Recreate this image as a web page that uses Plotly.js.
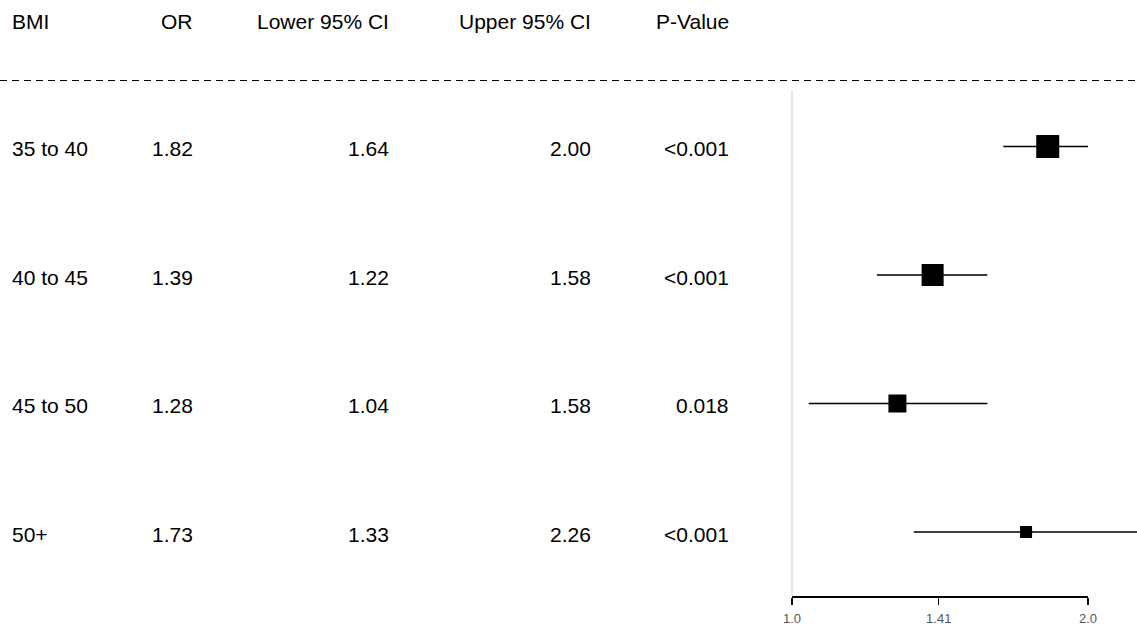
<!DOCTYPE html>
<html>
<head>
<meta charset="utf-8">
<script src="https://cdn.plot.ly/plotly-3.0.1.min.js"></script>
<style>html,body{margin:0;padding:0;background:#fff;}#chart{width:1137px;height:629px;}</style>
</head>
<body>
<div id="chart"></div>
<script>
// ---- data ----
var bmi = ["35 to 40", "40 to 45", "45 to 50", "50+"];
var orVals = [1.82, 1.39, 1.28, 1.73];
var lowerCI = [1.64, 1.22, 1.04, 1.33];
var upperCI = [2.00, 1.58, 1.58, 2.26];
var pValues = ["<0.001", "<0.001", "0.018", "<0.001"];
var headers = ["BMI", "OR", "Lower 95% CI", "Upper 95% CI", "P-Value"];
var tickVals = [1.0, 1.41, 2.0];
var tickLabels = ["1.0", "1.41", "2.0"];
var refValue = 1.0;

// ---- style ----
var W = 1137, H = 629;
var boxSizes = [23, 22, 18, 12];
var font = "Liberation Sans, Arial, Helvetica, sans-serif";
var fs = 21;

var rowY = bmi.map(function (_, i) { return bmi.length - i; }); // 4,3,2,1
var yBottom = 0.502, yTop = 5.14;

var ciX = [], ciY = [];
for (var i = 0; i < bmi.length; i++) {
  ciX.push(lowerCI[i], upperCI[i], null);
  ciY.push(rowY[i], rowY[i], null);
}

var traces = [
  { // reference (no effect) line
    type: "scatter", mode: "lines", x: [refValue, refValue], y: [yBottom, 4.44],
    line: { color: "#d0d0d0", width: 1 }, hoverinfo: "skip", showlegend: false
  },
  {
    type: "scatter", mode: "lines", x: ciX, y: ciY,
    line: { color: "#000", width: 1.5 }, hoverinfo: "skip", showlegend: false
  },
  {
    type: "scatter", mode: "markers", x: orVals, y: rowY,
    marker: { symbol: "square", size: boxSizes, color: "#000", opacity: 1, line: { width: 0 } },
    showlegend: false
  },
  { // activates the tick axis (xaxis2)
    type: "scatter", mode: "markers", x: [refValue], y: [rowY[0]], xaxis: "x2", yaxis: "y",
    marker: { opacity: 0 }, hoverinfo: "skip", showlegend: false
  }
];

// column geometry (pixels -> paper)
var colX = [10, 195, 391, 593, 731];
var colAnchor = ["left", "right", "right", "right", "right"];
var ann = [];
var headerY = 4.969;
headers.forEach(function (h, c) {
  ann.push({ xref: "paper", yref: "y", x: colX[c] / W, y: headerY, text: h,
    xanchor: colAnchor[c], yanchor: "middle", showarrow: false,
    font: { family: font, size: fs, color: "#000" } });
});
var cols = [bmi, orVals.map(function (v) { return v.toFixed(2); }),
  lowerCI.map(function (v) { return v.toFixed(2); }),
  upperCI.map(function (v) { return v.toFixed(2); }), pValues];
for (var r = 0; r < bmi.length; r++) {
  for (var c = 0; c < cols.length; c++) {
    ann.push({ xref: "paper", yref: "y", x: colX[c] / W, y: rowY[r], yshift: -2,
      text: String(cols[c][r]), xanchor: colAnchor[c], yanchor: "middle", showarrow: false,
      font: { family: font, size: fs, color: "#000" } });
  }
}

var x0px = 792, x2px = 1088, leftPx = 700;
var pxPerDec = (x2px - x0px) / Math.log10(2);
var xMin = (leftPx - x0px) / pxPerDec;
var xMax = (W - x0px) / pxPerDec;

var layout = {
  width: W, height: H,
  margin: { l: 0, r: 0, t: 0, b: 33, pad: 0 },
  paper_bgcolor: "#fff", plot_bgcolor: "rgba(0,0,0,0)",
  xaxis: {
    type: "log", domain: [leftPx / W, 1], range: [xMin, xMax],
    showgrid: false, zeroline: false, showline: false, showticklabels: false, ticks: ""
  },
  xaxis2: {
    type: "log", domain: [x0px / W, x2px / W], range: [0, Math.log10(2)],
    anchor: "y",
    showgrid: false, zeroline: false, showline: true, linecolor: "#000", linewidth: 1.5,
    tickmode: "array", tickvals: tickVals, ticktext: tickLabels,
    ticks: "outside", ticklen: 7, tickwidth: 1.5, tickcolor: "#000",
    ticklabelstandoff: 3,
    tickfont: { family: font, size: 13, color: "#555" }
  },
  yaxis: {
    range: [yBottom, yTop], visible: false, showgrid: false, zeroline: false, fixedrange: true
  },
  shapes: [
    { type: "line", xref: "paper", yref: "paper", x0: 0, x1: 1,
      y0: (596 - 80.5) / 596, y1: (596 - 80.5) / 596,
      line: { color: "#000", width: 1, dash: "7px,5px" } }
  ],
  annotations: ann,
  showlegend: false
};

Plotly.newPlot("chart", traces, layout, { displayModeBar: false, staticPlot: true });
</script>
</body>
</html>
